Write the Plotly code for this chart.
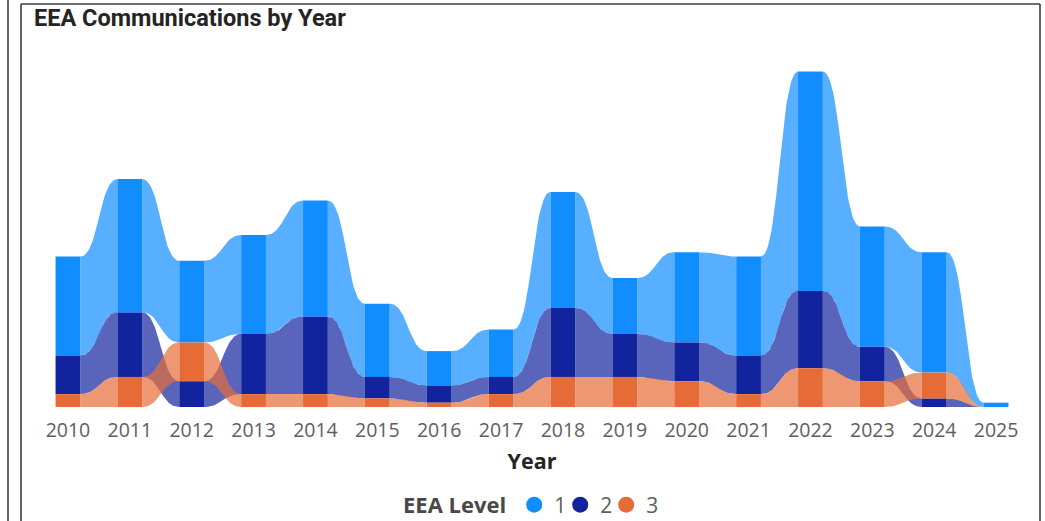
import numpy as np
import plotly.graph_objects as go

years = list(range(2010, 2026))
year_labels = [str(y) for y in years]
level1 = [23, 31, 19, 23, 27, 17, 8, 11, 27, 13, 21, 23, 51, 28, 28, 1]
level2 = [9, 15, 6, 14, 18, 5, 4, 4, 16, 10, 9, 9, 18, 8, 2, 0]
level3 = [3, 7, 9, 3, 3, 2, 1, 3, 7, 7, 6, 3, 9, 6, 6, 0]
series_names = ["1", "2", "3"]
bar_colors = ["#118DFF", "#12239E", "#E66C37"]
ribbon_colors = ["rgba(17,141,255,0.70)", "rgba(18,35,158,0.70)", "rgba(230,108,55,0.70)"]

W, H = 1045, 521
PLOT_L, PLOT_R, PLOT_T, PLOT_B = 37, 1027, 63, 407  # page pixels
ML, MR, MT, MB = PLOT_L, W - PLOT_R, PLOT_T, H - PLOT_B
PW = PLOT_R - PLOT_L
PH = PLOT_B - PLOT_T
BAR_W = 0.4

series = [level1, level2, level3]
n = len(years)

# ribbon-chart stacking: at each year, smallest value at the bottom
bottoms = [[0.0] * n for _ in series]
tops = [[0.0] * n for _ in series]
for j in range(n):
    order = sorted(range(len(series)), key=lambda k: (series[k][j], -k))
    acc = 0.0
    for k in order:
        bottoms[k][j] = acc
        acc += series[k][j]
        tops[k][j] = acc


def s_curve(x0, y0, x1, y1, npts=40):
    s = np.linspace(0, 1, npts)
    xs = x0 + (x1 - x0) * (1.5 * s * (1 - s) + s ** 3)
    ys = y0 + (y1 - y0) * (3 * s ** 2 - 2 * s ** 3)
    return xs, ys


fig = go.Figure()

for k in range(len(series)):
    fig.add_trace(go.Bar(
        x=years, y=series[k], base=bottoms[k], width=BAR_W,
        marker=dict(color=bar_colors[k], line=dict(width=0)),
        showlegend=False, hoverinfo="skip"))

for k in range(len(series)):
    X, Y = [], []
    for j in range(n - 1):
        xa = years[j] + BAR_W / 2
        xb = years[j + 1] - BAR_W / 2
        tx, ty = s_curve(xa, tops[k][j], xb, tops[k][j + 1])
        bx, by = s_curve(xa, bottoms[k][j], xb, bottoms[k][j + 1])
        X += list(tx) + list(bx[::-1]) + [tx[0], None]
        Y += list(ty) + list(by[::-1]) + [ty[0], None]
    fig.add_trace(go.Scatter(
        x=X, y=Y, mode="lines", fill="toself", fillcolor=ribbon_colors[k],
        line=dict(width=0), showlegend=False, hoverinfo="skip"))

for k in range(len(series)):
    fig.add_trace(go.Scatter(
        x=[None], y=[None], mode="markers", name=series_names[k],
        marker=dict(symbol="circle", size=16, color=bar_colors[k])))
# blank spacer entry so the last legend label is not clipped
fig.add_trace(go.Scatter(
    x=[None], y=[None], mode="markers", name=" ",
    marker=dict(symbol="circle", size=1, opacity=0, color="white")))


def px_x(p):
    return (p - PLOT_L) / PW


def px_y(p):
    return (PLOT_B - p) / PH


border = dict(color="#3c3c3c", width=1.6)
shapes = [
    dict(type="line", xref="paper", yref="paper", x0=px_x(8), x1=px_x(8), y0=px_y(0), y1=px_y(521), line=border),
    dict(type="line", xref="paper", yref="paper", x0=px_x(21), x1=px_x(21), y0=px_y(4), y1=px_y(521), line=border),
    dict(type="line", xref="paper", yref="paper", x0=px_x(21), x1=px_x(1040), y0=px_y(4), y1=px_y(4), line=border),
    dict(type="line", xref="paper", yref="paper", x0=px_x(1040), x1=px_x(1040), y0=px_y(4), y1=px_y(521), line=border),
]

fig.update_layout(
    width=W, height=H,
    margin=dict(l=ML, r=MR, t=MT, b=MB, pad=0, autoexpand=False),
    paper_bgcolor="white", plot_bgcolor="white",
    barmode="overlay",
    font=dict(family="Open Sans", color="#605E5C"),
    shapes=shapes,
    xaxis=dict(
        range=[2009.5, 2025.5], tickvals=years, ticktext=year_labels,
        showgrid=False, zeroline=False, showline=False, ticks="",
        tickfont=dict(size=19.5, color="#605E5C"),
        ticklabelstandoff=9,
        title=dict(text="<b>Year</b>", font=dict(size=21.5, color="#252423"), standoff=12),
    ),
    yaxis=dict(range=[0, 80], visible=False),
    legend=dict(
        orientation="h", x=px_x(401), xanchor="left", y=px_y(505), yanchor="middle",
        title=dict(text="<b>EEA Level</b>", font=dict(size=22, color="#4A4846")),
        font=dict(size=21, color="#605E5C"),
        itemwidth=30, traceorder="normal", entrywidth=1,
        bgcolor="rgba(0,0,0,0)",
    ),
    annotations=[dict(
        text="<b>EEA Communications by Year</b>", xref="paper", yref="paper",
        x=px_x(32), y=px_y(18), xanchor="left", yanchor="middle", showarrow=False,
        font=dict(size=23.5, color="#252423", family="Roboto"))],
)

fig.write_html(
    "out.html",
    config={"displayModeBar": False},
    post_script="document.body.style.margin='0';document.body.style.overflow='hidden';",
)
